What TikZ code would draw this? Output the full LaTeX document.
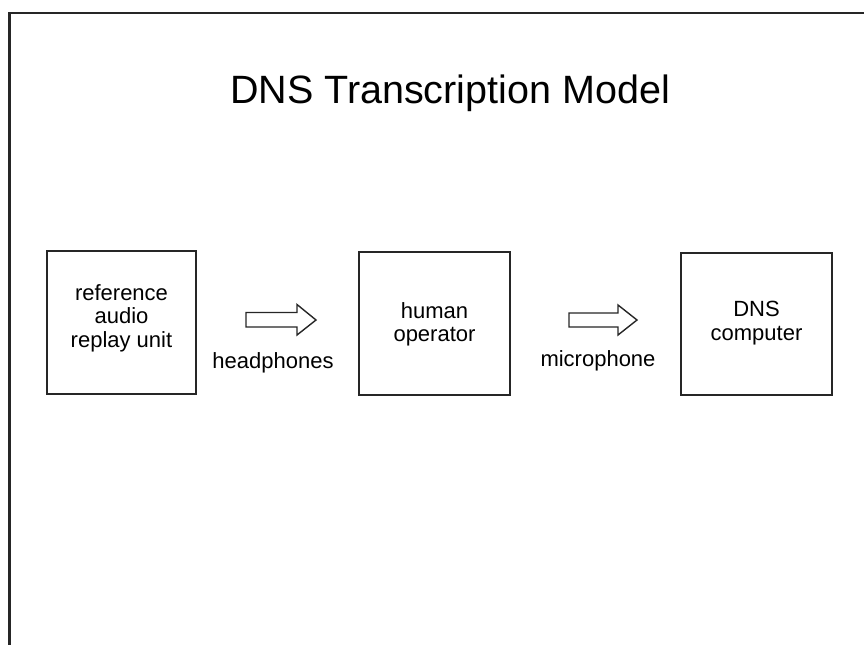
\documentclass[tikz,border=0pt]{standalone}
\usepackage{fontspec}
\setmainfont{Liberation Sans}
\begin{document}
\begin{tikzpicture}[x=1pt,y=-1pt,
  box/.style={draw=black!85,line width=1.4pt,inner sep=0pt},
  boxtext/.style={font=\fontsize{22}{23.5}\selectfont,align=center,anchor=base},
  lbl/.style={font=\fontsize{22}{23.5}\selectfont,anchor=base},
  blockarrow/.style={draw=black!85,line width=1.4pt,fill=white,line join=miter}]
\useasboundingbox (0,0) rectangle (864,645);
% frame
\draw[line width=2.6pt,black!85] (864,13) -- (9.5,13) -- (9.5,645);
% title
\node[font=\fontsize{39.5}{42}\selectfont,anchor=base] (title) at (450,103) {DNS Transcription Model};
% boxes
\node[box,minimum width=149pt,minimum height=143pt] (ref) at (121.5,322.5) {};
\node[box,minimum width=151pt,minimum height=143pt] (hum) at (434.5,323.5) {};
\node[box,minimum width=151pt,minimum height=142pt] (dns) at (756.5,324) {};
% box texts (base = baseline of last line)
\node[boxtext] (reft) at (121.5,347) {reference\\audio\\replay unit};
\node[boxtext] (humt) at (434.5,341.5) {human\\operator};
\node[boxtext] (dnst) at (756.5,340) {DNS\\computer};
% block arrows
\draw[blockarrow] (246,312.5) -- (297,312.5) -- (297,304.5) -- (316,320) -- (297,335) -- (297,327) -- (246,327) -- cycle;
\draw[blockarrow] (569,313) -- (618,313) -- (618,305) -- (637,320) -- (618,335) -- (618,327) -- (569,327) -- cycle;
% labels
\node[lbl] (hp) at (273,368) {headphones};
\node[lbl] (mic) at (598,366) {microphone};
\end{tikzpicture}
\end{document}
